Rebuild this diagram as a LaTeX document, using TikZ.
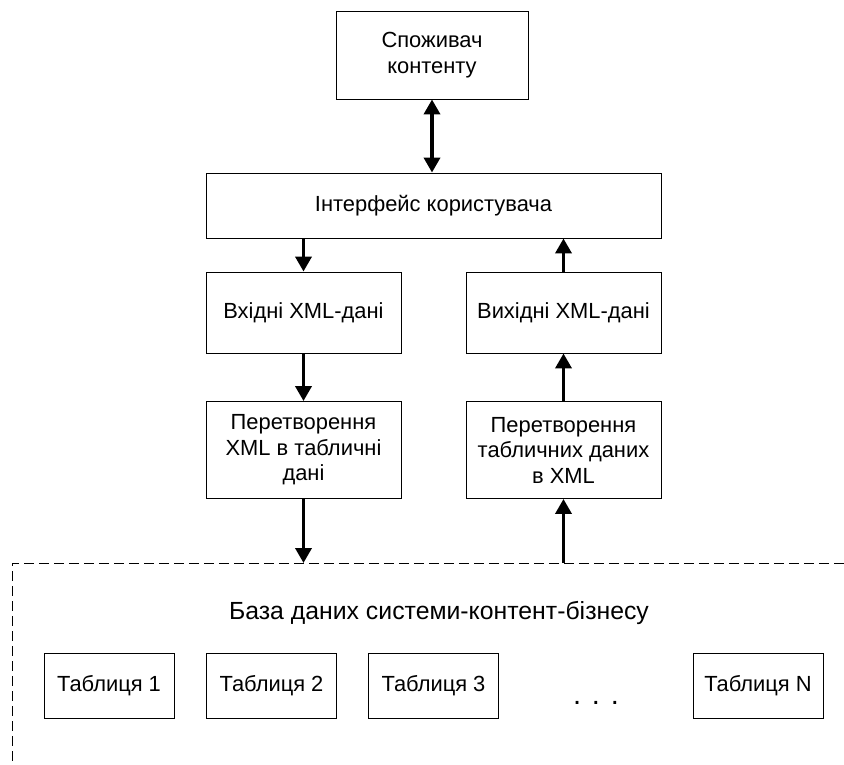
\documentclass[tikz,border=0pt]{standalone}
\usepackage{fontspec}
\setmainfont{Liberation Sans}
\usetikzlibrary{arrows.meta}
\begin{document}
\begin{tikzpicture}[x=1pt,y=-1pt,
  box/.style={draw, line width=0.9pt, minimum width=#1, inner sep=0pt, align=center, font=\fontsize{21.9}{25.5}\selectfont},
  box/.default=195pt,
  arr/.style={line width=3.6pt, -{Triangle[width=16pt,length=15pt]}},
  darr/.style={line width=3.6pt, {Triangle[width=16pt,length=15pt]}-{Triangle[width=16pt,length=15pt]}},
  dashline/.style={line width=1pt, dash pattern=on 10pt off 5pt}
]
\useasboundingbox (0,0) rectangle (844,764);
\node[box=192pt, minimum height=88pt] (cons) at (432,55) {Споживач\\контенту};
\node[box=455pt, minimum height=65pt] (ui) at (433.5,205.5) {Інтерфейс користувача};
\node[box, minimum height=81pt] (in) at (303.5,312.5) {Вхідні XML-дані};
\node[box, minimum height=81pt] (out) at (563.5,312.5) {Вихідні XML-дані};
\node[box, minimum height=97pt] (conv1) at (303.5,450) {Перетворення\\XML в табличні\\дані};
\node[box, minimum height=97pt] (conv2) at (563.5,450) {Перетворення\\табличних даних\\в XML};
\coordinate (d1) at (303.5,563);
\coordinate (d2) at (563.5,563);
\coordinate (dl) at (12,563);
\coordinate (dr) at (844,563);
\coordinate (dbot) at (12,764);
\draw[dashline] (dr) -- (dl) -- (dbot);
\draw[darr] (cons.south) -- (ui.north -| cons.south);
\draw[arr] (ui.south -| in.north) -- (in.north);
\draw[arr] (out.north) -- (ui.south -| out.north);
\draw[arr] (in.south) -- (conv1.north);
\draw[arr] (conv2.north) -- (out.south);
\draw[arr] (conv1.south) -- (d1);
\draw[arr] (d2) -- (conv2.south);
\node[font=\fontsize{24.8}{30}\selectfont] (dbtitle) at (439,613) {База даних системи-контент-бізнесу};
\node[box=130pt, minimum height=65pt] (t1) at (109,686) {Таблиця 1};
\node[box=130pt, minimum height=65pt] (t2) at (271.5,686) {Таблиця 2};
\node[box=130pt, minimum height=65pt] (t3) at (433.5,686) {Таблиця 3};
\node[font=\fontsize{29}{32}\selectfont, anchor=base] (dots) at (596,704) {. . .};
\node[box=130pt, minimum height=65pt] (tn) at (758,686) {Таблиця N};
\end{tikzpicture}
\end{document}
